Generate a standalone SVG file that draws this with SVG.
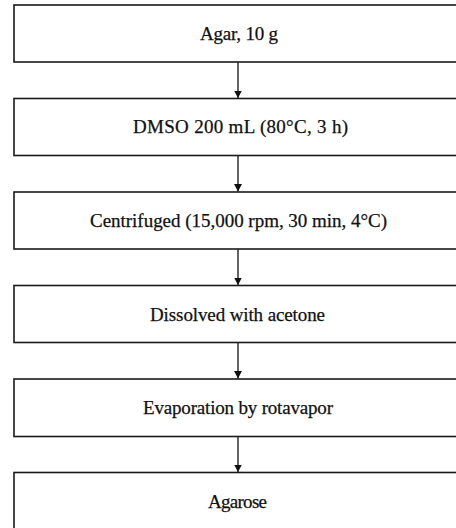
<svg xmlns="http://www.w3.org/2000/svg" width="456" height="528" viewBox="0 0 456 528">
<defs>
<style>
.box{fill:#fff;stroke:#1a1a1a;stroke-width:1.6}
.lbl{font-family:"Liberation Serif","Times New Roman",serif;font-size:19px;fill:#111;stroke:#111;stroke-width:0.25;text-anchor:middle}
.conn{stroke:#222;stroke-width:1.4;fill:none}
</style>
<marker id="ah" markerUnits="userSpaceOnUse" markerWidth="9" markerHeight="9" refX="7.5" refY="4" orient="auto">
<path d="M0,0 L7.5,4 L0,8 Z" fill="#111"/>
</marker>
</defs>
<rect width="456" height="528" fill="#fff"/>
<g id="n1"><rect class="box" x="14" y="5" width="450" height="57"/><text class="lbl" x="239" y="39.5" textLength="78" lengthAdjust="spacing">Agar, 10 g</text></g>
<g id="n2"><rect class="box" x="14" y="98.5" width="450" height="57"/><text class="lbl" x="240.5" y="133" textLength="215" lengthAdjust="spacing">DMSO 200 mL (80°C, 3 h)</text></g>
<g id="n3"><rect class="box" x="14" y="192" width="450" height="57"/><text class="lbl" x="238.5" y="226.5" textLength="297" lengthAdjust="spacing">Centrifuged (15,000 rpm, 30 min, 4°C)</text></g>
<g id="n4"><rect class="box" x="14" y="285.5" width="450" height="57"/><text class="lbl" x="237.5" y="320.5" textLength="175" lengthAdjust="spacing">Dissolved with acetone</text></g>
<g id="n5"><rect class="box" x="14" y="379" width="450" height="57.5"/><text class="lbl" x="238" y="414" textLength="190" lengthAdjust="spacing">Evaporation by rotavapor</text></g>
<g id="n6"><rect class="box" x="14" y="472.5" width="450" height="70"/><text class="lbl" x="237.5" y="507.5" textLength="59" lengthAdjust="spacing">Agarose</text></g>
<g id="connectors">
<path class="conn" d="M238,62 V98" marker-end="url(#ah)"/>
<path class="conn" d="M238,155.5 V191.5" marker-end="url(#ah)"/>
<path class="conn" d="M238,249 V285" marker-end="url(#ah)"/>
<path class="conn" d="M238,342.5 V378.5" marker-end="url(#ah)"/>
<path class="conn" d="M238,436.5 V472" marker-end="url(#ah)"/>
</g>
</svg>
